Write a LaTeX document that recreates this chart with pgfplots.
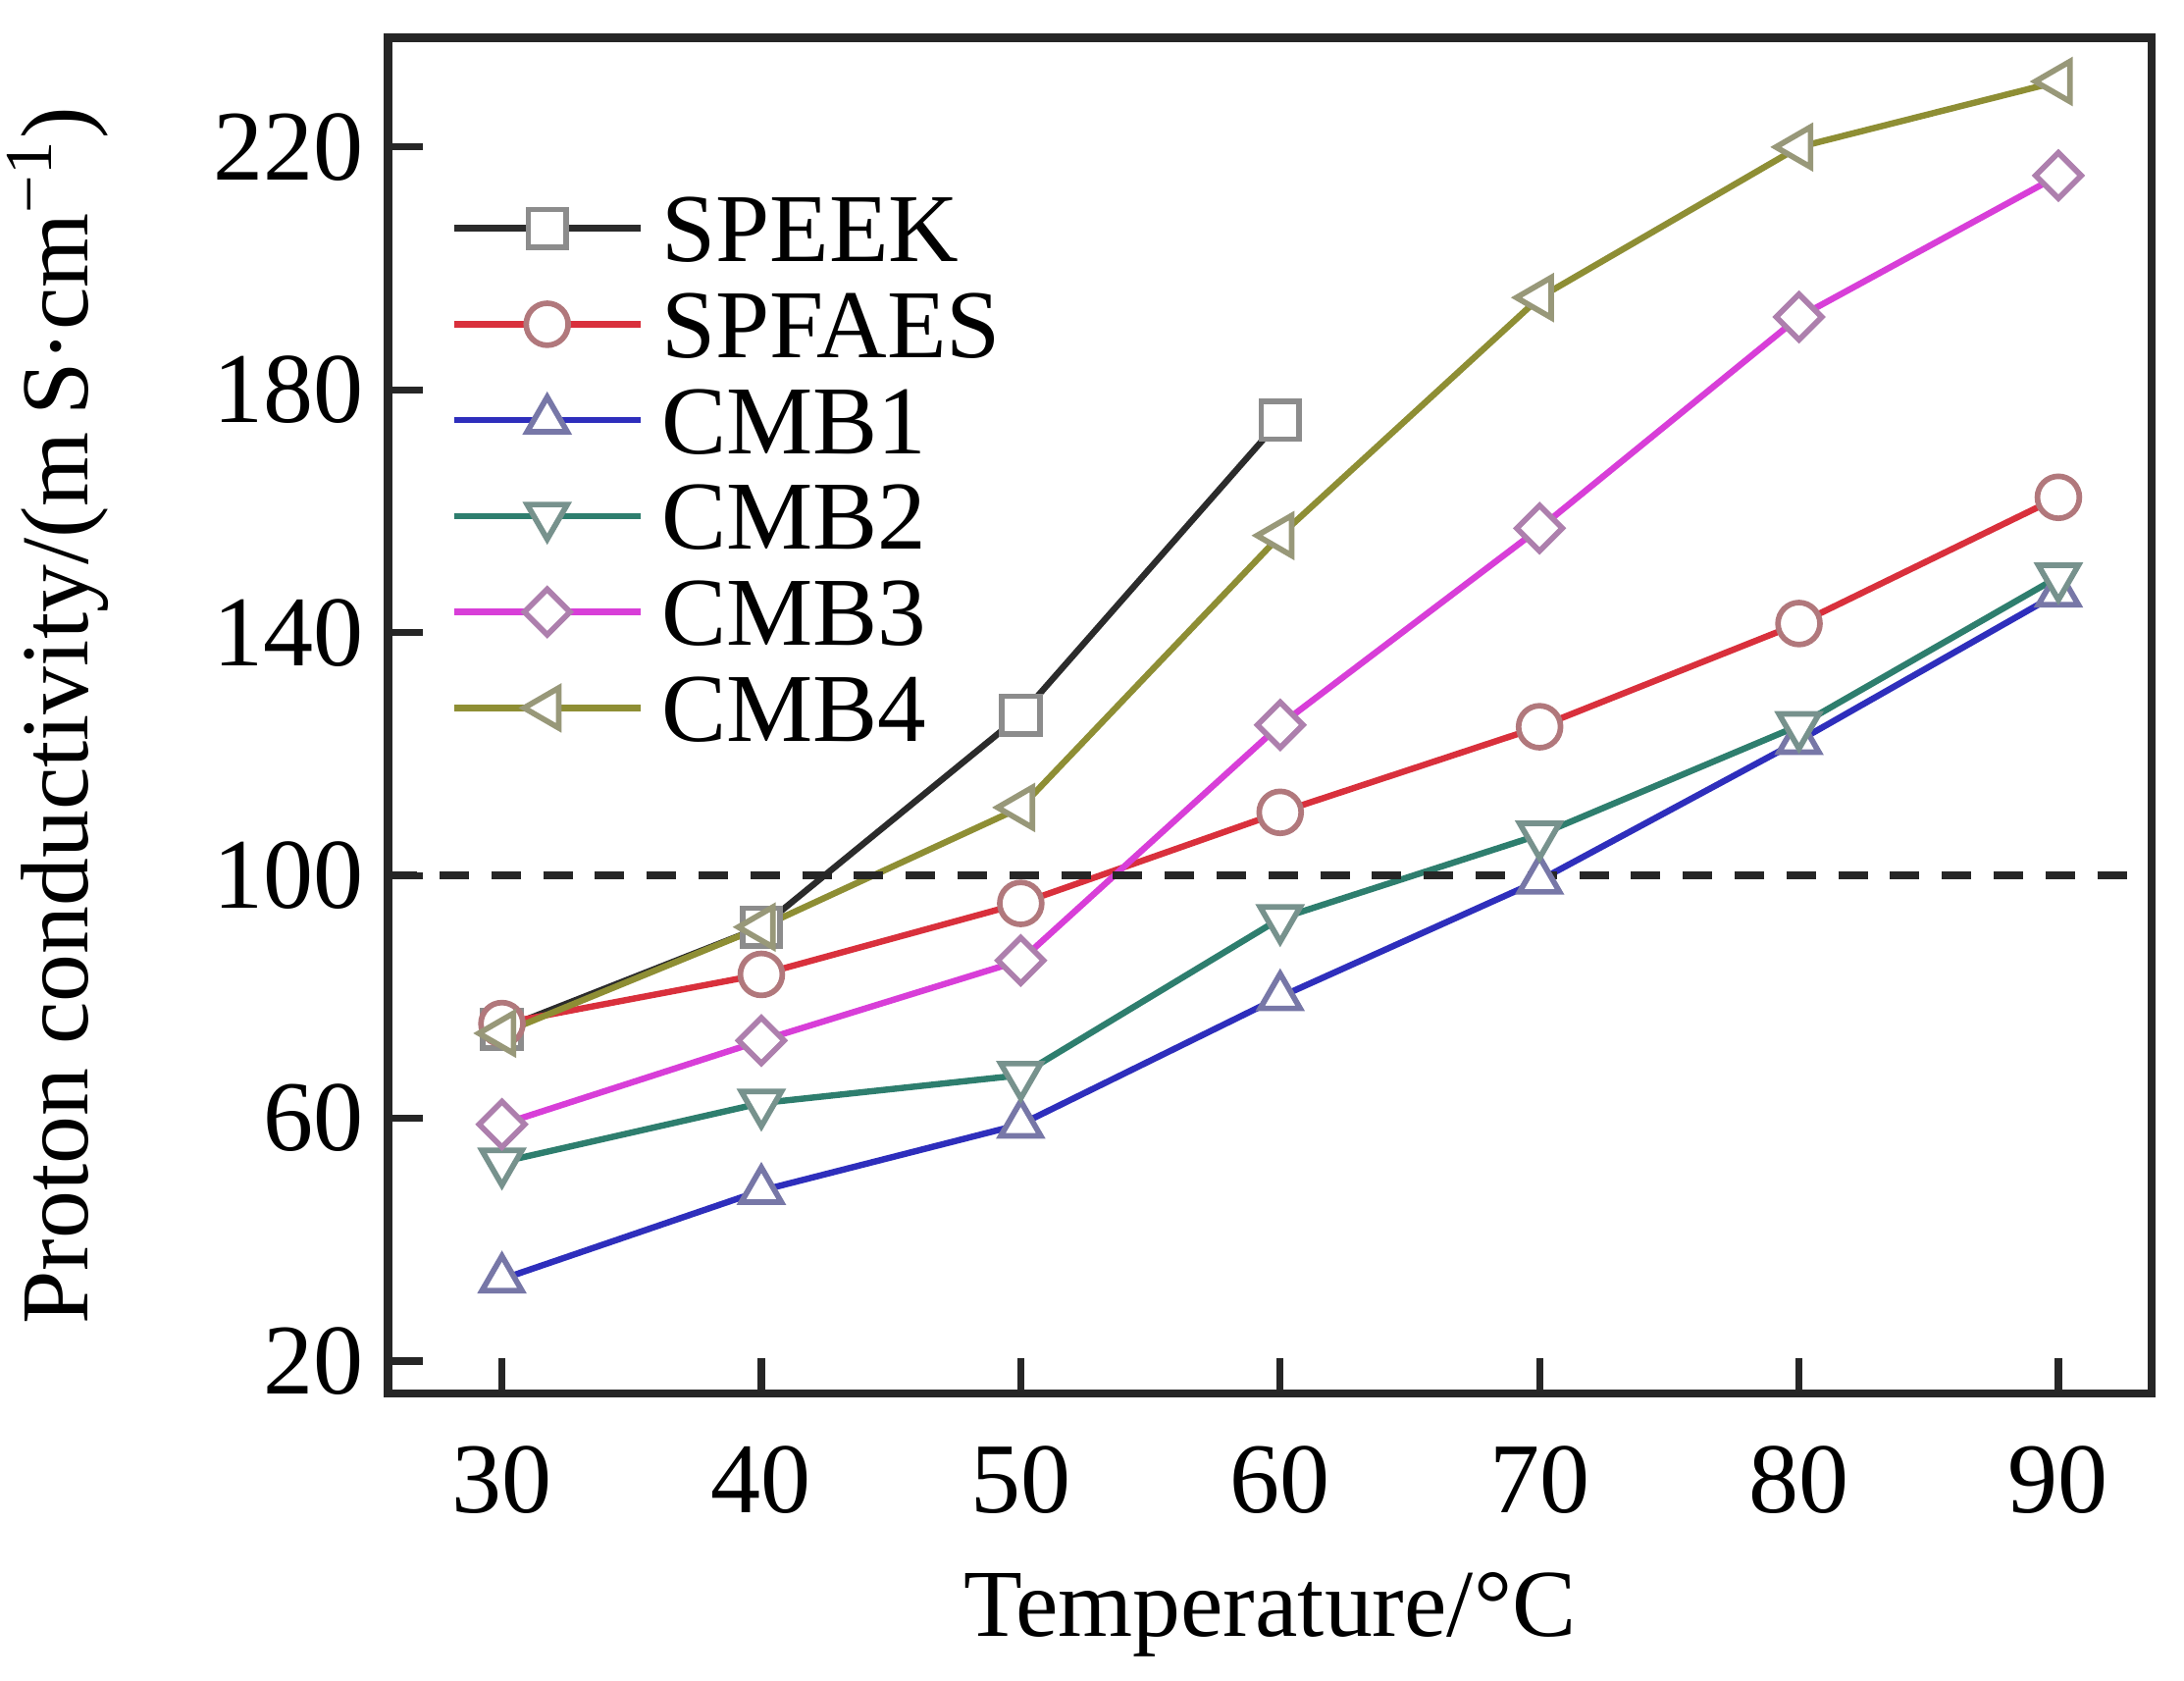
\documentclass[border=0pt]{standalone}
\usepackage{fontspec}
\setmainfont{Liberation Serif}
\usepackage{pgfplots}
\pgfplotsset{compat=1.18}

\definecolor{cspeek}{HTML}{2B2B2B}
\definecolor{cspfaes}{HTML}{D9303C}
\definecolor{ccmbone}{HTML}{2E2EBC}
\definecolor{ccmbtwo}{HTML}{2E7E6E}
\definecolor{ccmbthree}{HTML}{D83ED8}
\definecolor{ccmbfour}{HTML}{8E8E34}

\begin{document}
\begin{tikzpicture}
	\begin{axis}[
			name=ax,
			scale only axis,
			width=252pt, height=193.6pt,
			xmin=25.6, xmax=93.6,
			ymin=14.7, ymax=238,
			xtick={30,40,...,90},
			ytick={20,60,...,220},
			xtick pos=left, ytick pos=left,
			tick align=inside,
			major tick length=5pt,
			axis line style={line width=1.2pt, black!85},
			every tick/.style={line width=1pt, black!85},
			/pgf/number format/assume math mode=true,
			tick label style={font=\fontsize{14.3}{16}\selectfont},
			xticklabel style={yshift=-4pt},
			label style={font=\fontsize{13.7}{16}\selectfont},
			xlabel={Temperature/°C},
			xlabel style={yshift=-1.5pt},
			ylabel={Proton conductivity/(m\,S·cm\textsuperscript{−1})},
			ylabel style={yshift=8pt},
			every axis plot/.append style={line width=0.9pt},
			legend style={draw=none, fill=none, at={(0.035,0.885)}, anchor=north west,
				font=\fontsize{13.9}{15}\selectfont, row sep=4.2pt, inner sep=0pt,
				nodes={inner ysep=0pt, inner xsep=2.6pt, text height=9.5pt, text depth=0pt}},
			legend cell align=left,
			legend image code/.code={\draw[mark repeat=2,mark phase=2]
				plot coordinates {(0pt,0pt) (13.3pt,0pt) (26.6pt,0pt)};},
		]

		\addplot [cspeek, mark=square*, mark size=2.7pt,
			mark options={fill=white, draw=gray!90, line width=0.8pt}] coordinates {
			(30,74.7) (40,91.5) (50,126.4) (60,175)
		};
		\addlegendentry{SPEEK}

		\addplot [cspfaes, mark=*, mark size=3pt,
			mark options={fill=white, draw=cspfaes!40!gray!85, line width=0.8pt}] coordinates {
			(30,75.6) (40,83.7) (50,95.4) (60,110.4) (70,124.5) (80,141.5) (90,162.3)
		};
		\addlegendentry{SPFAES}

		\addplot [ccmbone, mark=triangle*, mark size=3.3pt,
			mark options={fill=white, draw=ccmbone!40!gray!85, line width=0.8pt}] coordinates {
			(30,33.5) (40,48.1) (50,59) (60,80) (70,99.2) (80,122.2) (90,146.5)
		};
		\addlegendentry{CMB1}

		\addplot [ccmbtwo, mark=triangle*, mark size=3.3pt,
			mark options={rotate=180, fill=white, draw=ccmbtwo!40!gray!85, line width=0.8pt}] coordinates {
			(30,52.8) (40,62.5) (50,67.1) (60,92.9) (70,106.7) (80,124.7) (90,149.2)
		};
		\addlegendentry{CMB2}

		\addplot [ccmbthree, mark=square*, mark size=2.3pt,
			mark options={rotate=45, fill=white, draw=ccmbthree!35!gray!85, line width=0.8pt}] coordinates {
			(30,59) (40,72.8) (50,86) (60,124.8) (70,157.2) (80,192) (90,215.3)
		};
		\addlegendentry{CMB3}

		\addplot [ccmbfour, mark=triangle*, mark size=3.3pt,
			mark options={rotate=90, fill=white, draw=ccmbfour!40!gray!85, line width=0.8pt}] coordinates {
			(30,74) (40,91.5) (50,111.2) (60,156) (70,195.2) (80,220) (90,230.8)
		};
		\addlegendentry{CMB4}

		\addplot [black!85, line width=1.1pt, dash pattern=on 4.2pt off 3.2pt, forget plot]
			coordinates {(25.6,100) (93,100)};
	\end{axis}
	\pgfresetboundingbox
	\path ([shift={(-55.4pt,-41pt)}]ax.south west) rectangle ([shift={(4.6pt,5.4pt)}]ax.north east);
\end{tikzpicture}
\end{document}
